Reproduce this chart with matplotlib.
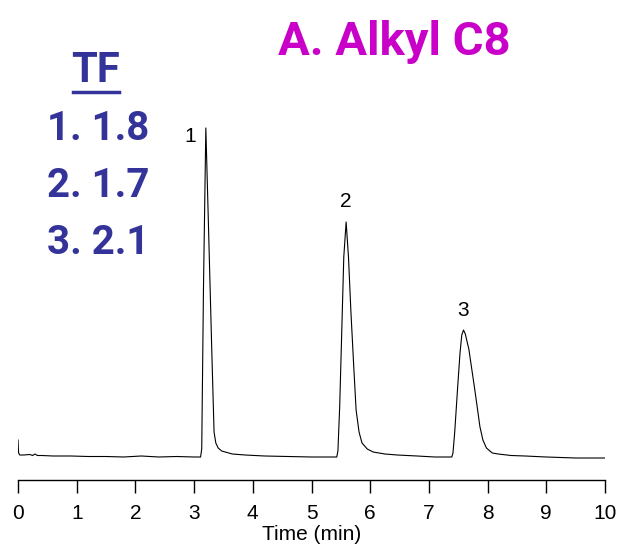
import matplotlib
matplotlib.use("Agg")
import matplotlib.pyplot as plt
from matplotlib.lines import Line2D

#==============================================================================
# Data (time in min, detector signal in arb. units)
#==============================================================================

time_min = [0.00, 0.01, 0.03, 0.10, 0.20, 0.25, 0.29, 0.33, 0.40, 0.60, 0.90,
            1.20, 1.50, 1.80, 2.10, 2.40, 2.70, 3.00, 3.11,
            3.13, 3.16, 3.20, 3.24, 3.30, 3.34, 3.37, 3.41, 3.47, 3.53, 3.65,
            3.87, 4.20, 4.60, 5.00, 5.30, 5.43,
            5.45, 5.48, 5.51, 5.55, 5.59, 5.63, 5.67, 5.72, 5.76, 5.81, 5.86,
            5.95, 6.05, 6.25, 6.46, 6.80, 7.10, 7.39,
            7.41, 7.44, 7.49, 7.53, 7.56, 7.59, 7.62, 7.68, 7.73, 7.78, 7.83,
            7.87, 7.92, 7.98, 8.08, 8.18, 8.40, 8.64, 9.00, 9.50, 10.00]
signal = [17, 4, 2, 2, 2.5, 1.5, 3, 1.5, 1.5, 1, 1,
          0.5, 0.5, 0, 1, 0, 0.5, 0, 0,
          8, 170, 329, 242, 109, 25, 14, 9, 6, 5, 3,
          2, 1, 0.5, 0, 0, 0,
          6, 50, 114, 200, 235, 200, 147, 90, 47, 25, 14,
          8, 5, 3, 2, 1, 0, 0,
          4, 25, 70, 104, 122, 127, 123, 108, 88, 68, 47,
          30, 17, 9, 4, 3, 1.5, 1, 0, -1, -1]

peak_times = [3.20, 5.59, 7.59]
peak_heights = [329, 235, 127]
peak_names = ["1", "2", "3"]
tailing = ["1.8", "1.7", "2.1"]

x_ticks = list(range(0, 11))

#==============================================================================
# Plot
#==============================================================================

W, H = 624, 546
fig = plt.figure(figsize=(W / 100, H / 100), dpi=100)
ax = fig.add_axes([18 / W, (H - 480) / H, 587 / W, 380 / H])

ax.plot(time_min, signal, color="black", lw=0.8)
ax.set_xlim(0, 10)
ax.set_ylim(-23, 357)

for side in ("left", "right", "top"):
    ax.spines[side].set_visible(False)
ax.spines["bottom"].set_linewidth(1.0)
ax.set_yticks([])
ax.set_xticks(x_ticks)
ax.tick_params(axis="x", length=9, width=1.0, pad=8, labelsize=15,
               direction="out")
for lab in ax.get_xticklabels():
    lab.set_family(["Liberation Sans", "DejaVu Sans"])
ax.set_xlabel("Time (min)", fontsize=15, labelpad=2,
              family=["Liberation Sans", "DejaVu Sans"])

# peak numbers
offsets = [(-11, -6), (0, 15), (0, 14)]
for t, h, name, off in zip(peak_times, peak_heights, peak_names, offsets):
    ax.annotate(name, (t, h), xytext=off, textcoords="offset points",
                ha="center", va="center", fontsize=15,
                family=["Liberation Sans", "DejaVu Sans"])

blue = "#33339a"
cond = dict(family=["Roboto", "DejaVu Sans"], fontweight="bold")

fig.text(394 / W, (H - 55) / H, "A. Alkyl C8", color="#c800c8",
         fontsize=34, ha="center", va="baseline", **cond)

fig.text(96 / W, (H - 82) / H, "TF", color=blue, fontsize=30,
         ha="center", va="baseline", **cond)
fig.add_artist(Line2D([73 / W, 119 / W], [(H - 92) / H, (H - 92) / H],
                      color=blue, lw=2.5, transform=fig.transFigure))
for i, tf in enumerate(tailing):
    fig.text(47 / W, (H - 140 - 57 * i) / H, "%s. %s" % (peak_names[i], tf),
             color=blue, fontsize=29, ha="left", va="baseline", **cond)

fig.savefig("out.png", dpi=100)
